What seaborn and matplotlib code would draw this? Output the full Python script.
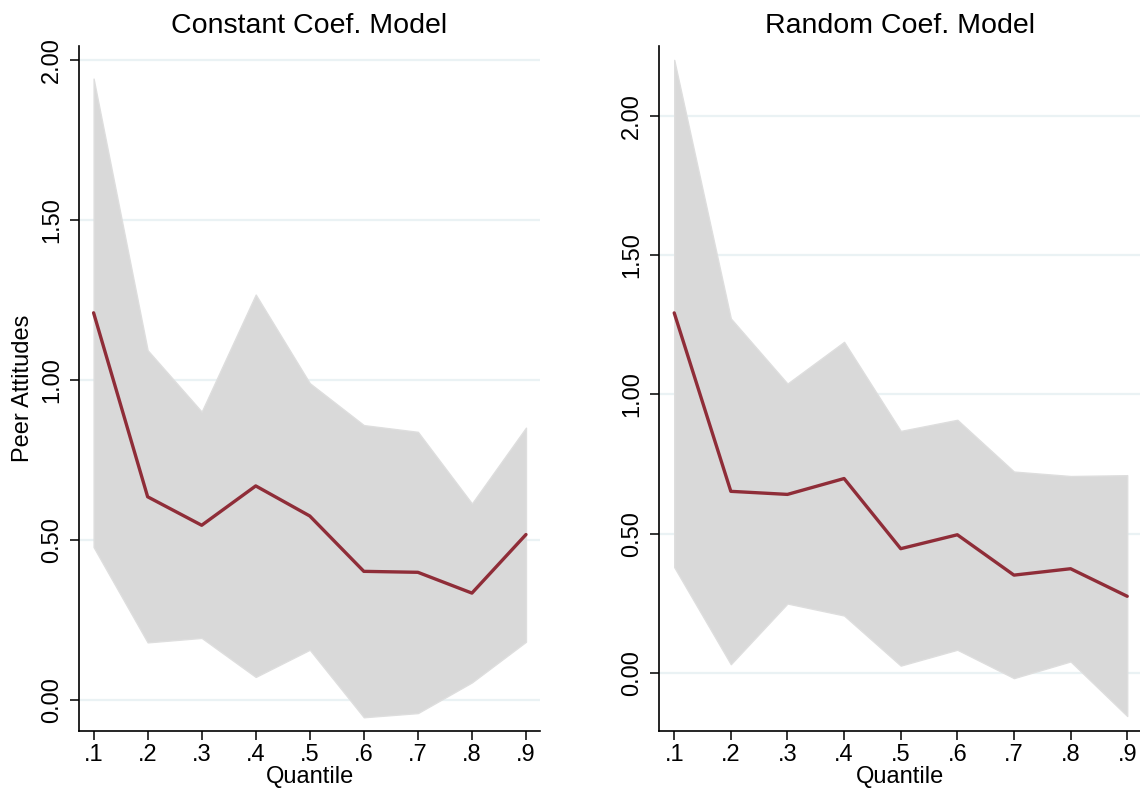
import numpy as np
import pandas as pd
import seaborn as sns
import matplotlib.pyplot as plt
from matplotlib.ticker import FormatStrFormatter

quantiles = [0.1, 0.2, 0.3, 0.4, 0.5, 0.6, 0.7, 0.8, 0.9]
x_ticklabels = [".1", ".2", ".3", ".4", ".5", ".6", ".7", ".8", ".9"]

# Constant coefficient model
const_coef = [1.21, 0.635, 0.546, 0.669, 0.575, 0.402, 0.399, 0.334, 0.517]
const_lower = [0.478, 0.180, 0.194, 0.072, 0.157, -0.054, -0.041, 0.055, 0.182]
const_upper = [1.942, 1.093, 0.901, 1.267, 0.990, 0.859, 0.838, 0.614, 0.851]

# Random coefficient model
rand_coef = [1.293, 0.652, 0.641, 0.698, 0.446, 0.496, 0.351, 0.374, 0.275]
rand_lower = [0.380, 0.031, 0.249, 0.206, 0.026, 0.083, -0.019, 0.041, -0.155]
rand_upper = [2.202, 1.273, 1.039, 1.189, 0.869, 0.909, 0.723, 0.707, 0.710]

y_ticks = [0.0, 0.5, 1.0, 1.5, 2.0]

sns.set_style("white")
plt.rcParams["font.family"] = ["Liberation Sans", "DejaVu Sans"]
plt.rcParams["text.color"] = "black"
plt.rcParams["axes.labelcolor"] = "black"
plt.rcParams["xtick.color"] = "black"
plt.rcParams["ytick.color"] = "black"

LINE_COLOR = "#8f2d38"
FILL_COLOR = "#d9d9d9"
GRID_COLOR = "#eaf2f4"

fig = plt.figure(figsize=(11.4, 7.92), dpi=100)
ax1 = fig.add_axes([0.0693, 0.077, 0.4044, 0.865])
ax2 = fig.add_axes([0.578, 0.077, 0.4237, 0.865])

panels = [
    (ax1, "Constant Coef. Model", const_coef, const_lower, const_upper, (-0.097, 2.044)),
    (ax2, "Random Coef. Model", rand_coef, rand_lower, rand_upper, (-0.209, 2.252)),
]

for ax, title, coef, lo, hi, ylim in panels:
    df = pd.DataFrame({"q": quantiles, "coef": coef, "lo": lo, "hi": hi})
    ax.fill_between(df["q"], df["lo"], df["hi"], color=FILL_COLOR,
                    edgecolor="#dedede", linewidth=1, zorder=2)
    sns.lineplot(data=df, x="q", y="coef", ax=ax, color=LINE_COLOR,
                 linewidth=2.4, zorder=3)
    ax.set_xlim(0.073, 0.926)
    ax.set_ylim(*ylim)
    ax.set_xticks(quantiles)
    ax.set_xticklabels(x_ticklabels)
    ax.set_yticks(y_ticks)
    ax.yaxis.set_major_formatter(FormatStrFormatter("%.2f"))
    for lab in ax.get_yticklabels():
        lab.set_rotation(90)
        lab.set_va("center")
    ax.grid(axis="y", color=GRID_COLOR, linewidth=1.6)
    ax.set_axisbelow(True)
    for side in ["top", "right"]:
        ax.spines[side].set_visible(False)
    for side in ["left", "bottom"]:
        ax.spines[side].set_color("black")
        ax.spines[side].set_linewidth(1.2)
    ax.tick_params(axis="both", direction="out", length=6.5, width=1.1,
                   color="black", labelcolor="black", labelsize=17,
                   bottom=True, left=True)
    ax.tick_params(axis="y", pad=5)
    ax.tick_params(axis="x", pad=3)
    ax.set_title(title, fontsize=20.5, pad=9, color="black")
    ax.set_xlabel("Quantile", fontsize=17, labelpad=0)
    ax.set_ylabel("")

ax1.set_ylabel("Peer Attitudes", fontsize=17, labelpad=5)

plt.savefig("out.png", dpi=100)
